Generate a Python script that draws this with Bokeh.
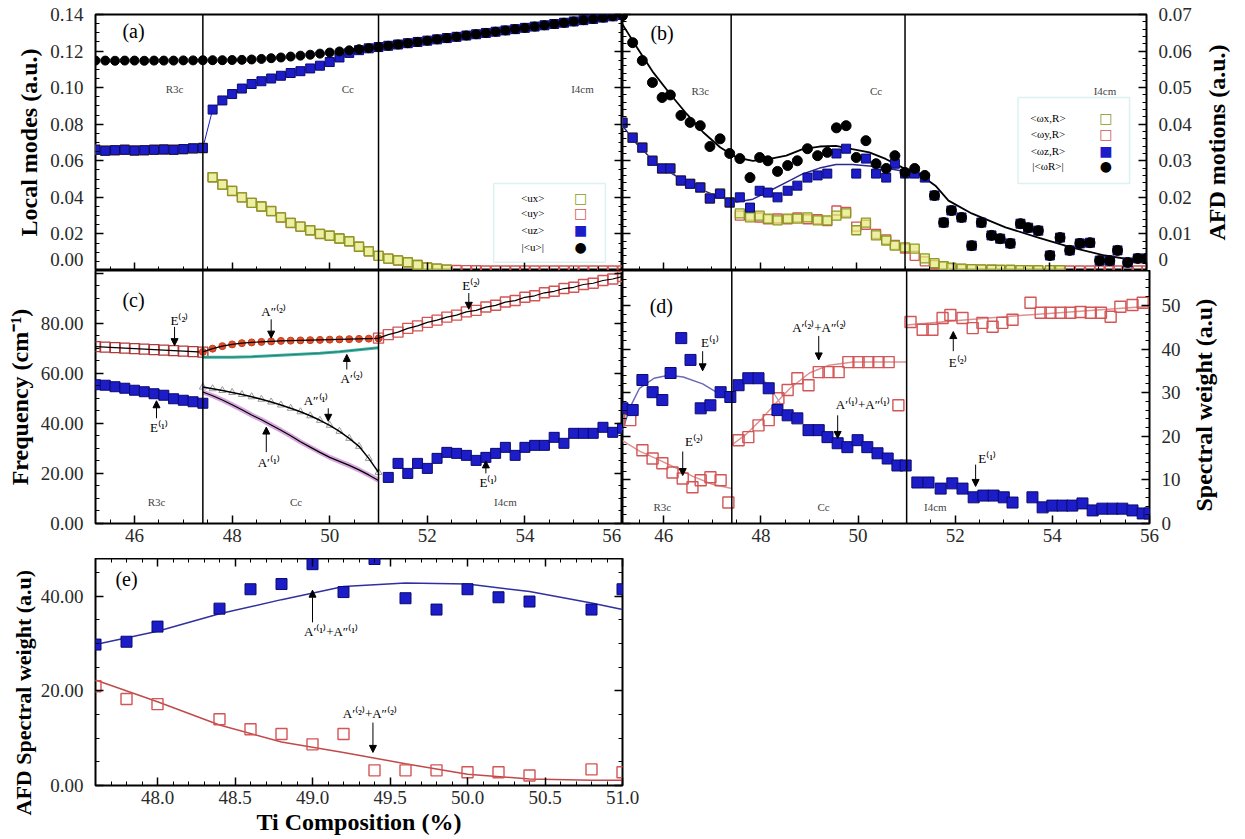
import math
import numpy as np
from bokeh.plotting import figure
from bokeh.layouts import column, row
from bokeh.models import (LinearAxis, FixedTicker, NumeralTickFormatter, Span, Label, Title,
                          Arrow, NormalHead, BoxAnnotation, Range1d, CustomJSTickFormatter)
from bokeh.embed import file_html
from bokeh.resources import INLINE

nan = float("nan")

# ---------------- panel (a): local modes ----------------
A_X = [45.2, 45.4, 45.6, 45.8, 46.0, 46.2, 46.4, 46.6, 46.8, 47.0, 47.2, 47.4,
       47.6, 47.8, 48.0, 48.2, 48.4, 48.6, 48.8, 49.0, 49.2, 49.4, 49.6, 49.8, 50.0, 50.2, 50.4, 50.6, 50.8, 51.0,
       51.2, 51.4, 51.6, 51.8, 52.0, 52.2, 52.4, 52.6, 52.8, 53.0, 53.2, 53.4, 53.6, 53.8, 54.0, 54.2, 54.4,
       54.6, 54.8, 55.0, 55.2, 55.4, 55.6, 55.8, 56.0]
A_UMOD = [0.1148, 0.1148, 0.1147, 0.1148, 0.1148, 0.1147, 0.1148, 0.1148, 0.1148, 0.1149, 0.1149, 0.1150,
          0.1150, 0.1150, 0.1151, 0.1152, 0.1154, 0.1157, 0.1161, 0.1165, 0.1170, 0.1175, 0.1180, 0.1186, 0.1192,
          0.1198, 0.1204, 0.1210, 0.1216, 0.1222,
          0.1229, 0.1236, 0.1243, 0.1250, 0.1257, 0.1264, 0.1271, 0.1278, 0.1285, 0.1292, 0.1299, 0.1306, 0.1313,
          0.1320, 0.1327, 0.1334, 0.1341, 0.1348, 0.1355, 0.1362, 0.1369, 0.1376, 0.1383, 0.1390, 0.1397]
A_UZ = [0.0660, 0.0655, 0.0658, 0.0660, 0.0656, 0.0658, 0.0660, 0.0662, 0.0660, 0.0664, 0.0668, 0.0670,
        0.0880, 0.0930, 0.0965, 0.0995, 0.1020, 0.1035, 0.1050, 0.1065, 0.1080, 0.1090, 0.1105, 0.1120, 0.1140,
        0.1165, 0.1190, 0.1205, 0.1215, 0.1222,
        0.1229, 0.1236, 0.1243, 0.1250, 0.1257, 0.1264, 0.1271, 0.1278, 0.1285, 0.1292, 0.1299, 0.1306, 0.1313,
        0.1320, 0.1327, 0.1334, 0.1341, 0.1348, 0.1355, 0.1362, 0.1369, 0.1376, 0.1383, 0.1390, 0.1397]
A_UX = [0.0660, 0.0655, 0.0658, 0.0660, 0.0656, 0.0658, 0.0660, 0.0662, 0.0660, 0.0664, 0.0668, 0.0670,
        0.0510, 0.0470, 0.0435, 0.0400, 0.0370, 0.0350, 0.0325, 0.0290, 0.0260, 0.0240, 0.0220, 0.0200, 0.0190,
        0.0175, 0.0160, 0.0130, 0.0105, 0.0080,
        0.0065, 0.0055, 0.0045, 0.0030, 0.0016, 0.0010, 0.0005, nan, nan, nan, nan, nan, nan,
        nan, nan, nan, nan, nan, nan, nan, nan, nan, nan, nan, nan]
A_UY = [0.0660, 0.0655, 0.0658, 0.0660, 0.0656, 0.0658, 0.0660, 0.0662, 0.0660, 0.0664, 0.0668, 0.0670,
        0.0510, 0.0470, 0.0435, 0.0400, 0.0370, 0.0350, 0.0325, 0.0290, 0.0260, 0.0240, 0.0220, 0.0200, 0.0190,
        0.0175, 0.0160, 0.0130, 0.0105, 0.0080,
        0.0065, 0.0055, 0.0045, 0.0030, 0.0016, 0.0010, 0.0005, 0.0003, 0.0002, 0.0001, 0.0, 0.0, 0.0,
        0.0, 0.0, 0.0, 0.0, 0.0, 0.0, 0.0, 0.0, 0.0, 0.0, 0.0, 0.0]
A_LEGEND = ["<ux>", "<uy>", "<uz>", "|<u>|"]

# ---------------- panel (b): AFD motions ----------------
B_X = [45.15, 45.36, 45.56, 45.77, 45.97, 46.14, 46.36, 46.55, 46.76, 46.96, 47.17, 47.37,
       47.58, 47.79, 47.99, 48.16, 48.36, 48.57, 48.77, 48.98, 49.19, 49.39, 49.58, 49.78, 49.99, 50.19,
       50.40, 50.61, 50.79, 51.00,
       51.20, 51.41, 51.61, 51.80, 51.96, 52.17, 52.38, 52.58, 52.79, 52.97, 53.18, 53.39, 53.55, 53.76,
       54.00, 54.21, 54.41, 54.62, 54.83, 55.03, 55.24, 55.40, 55.61, 55.82, 56.00]
B_WMOD = [0.0697, 0.0623, 0.0574, 0.0514, 0.0473, 0.0480, 0.0424, 0.0405, 0.0396, 0.0339, 0.0360, 0.0320,
          0.0306, 0.0254, 0.0309, 0.0300, 0.0271, 0.0287, 0.0300, 0.0333, 0.0314, 0.0323, 0.0390, 0.0396,
          0.0309, 0.0355, 0.0292, 0.0279, 0.0314, 0.0268,
          0.0279, 0.0260, 0.0205, 0.0131, 0.0164, 0.0145, 0.0068, 0.0131, 0.0096, 0.0087, 0.0074, 0.0128,
          0.0117, 0.0109, 0.0041, 0.0090, 0.0055, 0.0074, 0.0076, 0.0027, 0.0027, 0.0055, 0.0022, 0.0033, 0.0033]
B_WZ = [0.0404, 0.0363, 0.0336, 0.0300, 0.0279, 0.0279, 0.0246, 0.0237, 0.0227, 0.0197, 0.0210, 0.0186,
        0.0200, 0.0172, 0.0218, 0.0213, 0.0200, 0.0218, 0.0232, 0.0254, 0.0260, 0.0265, 0.0320, 0.0333,
        0.0265, 0.0306, 0.0265, 0.0254, 0.0292, 0.0265,
        0.0265, 0.0254, 0.0205, 0.0131, 0.0164, 0.0145, 0.0068, 0.0131, 0.0096, 0.0087, 0.0074, 0.0128,
        0.0117, 0.0109, 0.0041, 0.0090, 0.0055, 0.0074, 0.0076, 0.0027, 0.0027, 0.0055, 0.0022, 0.0033, 0.0033]
B_WX = [0.0404, 0.0363, 0.0336, 0.0300, 0.0279, 0.0279, 0.0246, 0.0237, 0.0227, 0.0197, 0.0210, 0.0186,
        0.0156, 0.0145, 0.0150, 0.0142, 0.0137, 0.0142, 0.0142, 0.0145, 0.0137, 0.0137, 0.0150, 0.0156,
        0.0110, 0.0131, 0.0096, 0.0082, 0.0068, 0.0063,
        0.0060, 0.0033, 0.0020, 0.0012, 0.0008, 0.0005, 0.0004, 0.0003, 0.0002, 0.0002, 0.0002, 0.0001,
        0.0001, 0.0001, 0.0001, 0.0001, nan, nan, nan, nan, nan, nan, nan, nan, nan]
B_WY = [0.0404, 0.0363, 0.0336, 0.0300, 0.0279, 0.0279, 0.0246, 0.0237, 0.0227, 0.0197, 0.0210, 0.0186,
        0.0150, 0.0150, 0.0145, 0.0140, 0.0142, 0.0140, 0.0145, 0.0140, 0.0140, 0.0135, 0.0164, 0.0160,
        0.0120, 0.0125, 0.0100, 0.0085, 0.0070, 0.0060,
        0.0040, 0.0025, 0.0015, 0.0010, 0.0006, 0.0004, 0.0003, 0.0002, 0.0002, 0.0001, 0.0001, 0.0001,
        0.0, 0.0, 0.0, 0.0, 0.0, 0.0, 0.0, 0.0, 0.0, 0.0, 0.0, 0.0, 0.0]
B_FIT_X = [45.15, 45.45, 45.79, 46.14, 46.48, 46.82, 47.17, 47.51, 47.85, 48.20, 48.54, 48.88, 49.23, 49.57,
           49.91, 50.26, 50.60, 50.94, 51.29, 51.63, 51.90, 52.38, 53.08, 53.76, 54.44, 55.14, 55.82, 56.00]
B_FIT_MOD = [0.0673, 0.0610, 0.0541, 0.0482, 0.0428, 0.0378, 0.0337, 0.0309, 0.0300, 0.0305, 0.0314, 0.0332,
             0.0339, 0.0341, 0.0332, 0.0323, 0.0305, 0.0282, 0.0264, 0.0232, 0.0191, 0.0156, 0.0118, 0.0090,
             0.0063, 0.0041, 0.0027, 0.0025]
B_FITZ_X = [45.15, 45.45, 45.79, 46.14, 46.48, 46.82, 47.17, 47.51, 47.85, 48.20, 48.54, 48.88, 49.23, 49.57,
            49.91, 50.26, 50.60, 50.94]
B_FIT_Z = [0.0396, 0.0345, 0.0300, 0.0268, 0.0241, 0.0219, 0.0200, 0.0187, 0.0195, 0.0218, 0.0241, 0.0264,
           0.0280, 0.0290, 0.0290, 0.0286, 0.0280, 0.0272]
B_LEGEND = ["<ωx,R>", "<ωy,R>", "<ωz,R>", "|<ωR>|"]

# ---------------- panel (c): frequencies ----------------
C_R3C_X = [45.2, 45.4, 45.6, 45.8, 46.0, 46.2, 46.4, 46.6, 46.8, 47.0, 47.2, 47.4]
C_E2_R3C = [70.6, 70.4, 70.2, 70.0, 69.8, 69.6, 69.4, 69.2, 69.0, 68.8, 68.6, 68.4]
C_E1_R3C = [55.4, 55.2, 54.6, 54.0, 53.2, 52.6, 51.8, 51.2, 49.8, 49.2, 48.6, 48.0]
C_CC_X = [47.4, 47.6, 47.8, 48.0, 48.2, 48.4, 48.6, 48.8, 49.0, 49.2, 49.4, 49.6, 49.8, 50.0, 50.2, 50.4,
          50.6, 50.8, 51.0]
C_A2PP = [68.5, 69.8, 70.8, 71.5, 72.0, 72.3, 72.5, 72.7, 72.9, 73.0, 73.1, 73.2, 73.3, 73.4, 73.5, 73.6,
          73.7, 73.8, 73.9]
C_A2P = [66.4, 66.4, 66.4, 66.4, 66.5, 66.6, 66.8, 67.0, 67.2, 67.4, 67.6, 67.8, 68.0, 68.3, 68.6, 69.0,
         69.4, 69.8, 70.2]
C_A1PP = [54.5, 53.8, 53.1, 52.3, 51.5, 50.6, 49.6, 48.5, 47.3, 46.0, 44.6, 43.0, 41.2, 39.2, 36.8, 34.0,
          30.8, 26.0, 20.4]
C_A1P = [52.5, 51.0, 49.3, 47.4, 45.4, 43.3, 41.4, 39.3, 37.2, 35.0, 32.6, 30.5, 28.4, 26.4, 24.8, 23.2,
         21.4, 19.4, 17.2]
C_RCM_X = [51.0, 51.2, 51.4, 51.6, 51.8, 52.0, 52.2, 52.4, 52.6, 52.8, 53.0, 53.2, 53.4, 53.6, 53.8, 54.0,
           54.2, 54.4, 54.6, 54.8, 55.0, 55.2, 55.4, 55.6, 55.8, 56.0]
C_E2_RCM = [74.0, 75.4, 76.4, 77.9, 78.9, 80.3, 81.2, 82.4, 83.2, 84.5, 85.1, 86.4, 87.1, 88.4, 89.0, 90.3,
            90.9, 92.1, 92.7, 93.8, 94.3, 95.4, 95.9, 97.0, 97.6, 98.6]
C_E1_RCM_X = [51.2, 51.4, 51.6, 51.8, 52.0, 52.2, 52.4, 52.6, 52.8, 53.0, 53.2, 53.4, 53.6, 53.8, 54.0, 54.2,
              54.4, 54.6, 54.8, 55.0, 55.2, 55.4, 55.6, 55.8, 56.0]
C_E1_RCM = [18.4, 24.0, 20.0, 24.0, 22.0, 26.0, 28.4, 28.0, 27.2, 25.2, 26.4, 28.0, 30.4, 27.2, 30.4, 31.2,
            31.2, 34.4, 32.0, 36.0, 36.0, 36.0, 38.4, 36.4, 38.0]

# ---------------- panel (d): spectral weights ----------------
D_E1_X = [45.15, 45.36, 45.56, 45.77, 45.97, 46.14, 46.36, 46.55, 46.76, 46.96, 47.17, 47.37,
          47.54, 47.74, 47.95, 48.16, 48.34, 48.55, 48.75, 48.98, 49.19, 49.37, 49.58, 49.78, 49.99, 50.19,
          50.40, 50.61, 50.81, 50.98,
          51.22, 51.45, 51.70, 51.94, 52.15, 52.38, 52.58, 52.79, 53.00, 53.18, 53.59, 53.80, 54.00, 54.21,
          54.41, 54.62, 54.83, 55.03, 55.24, 55.44, 55.65, 55.86, 56.00]
D_E1 = [26.4, 26.0, 32.9, 30.1, 28.3, 34.5, 42.5, 37.5, 26.4, 27.1, 30.1, 29.0,
        31.7, 33.3, 33.3, 31.0, 26.0, 24.8, 24.1, 21.4, 21.4, 19.8, 18.4, 17.5, 19.1, 17.5, 16.1, 14.9, 13.3, 13.3,
        9.4, 9.4, 8.0, 9.2, 8.0, 6.0, 6.4, 6.4, 6.0, 4.8, 6.0, 3.7, 4.1, 4.1, 4.1, 4.6, 3.0, 3.4, 3.4, 3.4,
        3.0, 2.3, 2.3]
D_E2_X = [45.31, 45.56, 45.77, 45.97, 46.18, 46.39, 46.59, 46.76, 46.96, 47.17, 47.33,
          47.54, 47.74, 47.95, 48.16, 48.36, 48.55, 48.75, 48.98, 49.19, 49.39, 49.60, 49.80, 50.01, 50.21,
          50.42, 50.63, 50.83,
          51.08, 51.33, 51.53, 51.74, 51.90, 52.15, 52.36, 52.56, 52.77, 52.97, 53.18, 53.55, 53.76, 53.96,
          54.17, 54.37, 54.58, 54.79, 55.00, 55.20, 55.40, 55.65, 55.86]
D_E2 = [23.7, 16.8, 14.9, 13.8, 11.7, 10.3, 8.3, 9.9, 10.6, 9.9, 4.8,
        19.1, 19.8, 22.5, 23.7, 28.7, 30.6, 33.3, 31.7, 34.7, 34.7, 34.7, 37.0, 37.0, 37.0, 37.0, 37.0, 27.1,
        46.2, 44.4, 44.4, 47.1, 47.8, 47.1, 44.8, 46.0, 45.1, 46.0, 46.7, 50.6, 48.3, 48.3, 48.3, 48.3, 48.5,
        48.3, 48.3, 47.4, 49.7, 50.1, 50.6]
D_FIT1_X = [45.15, 45.3, 45.5, 45.8, 46.1, 46.4, 46.8, 47.1, 47.4]
D_FIT1 = [21.4, 26.5, 31.0, 33.3, 34.0, 33.6, 32.0, 30.0, 28.0]
D_FIT1C_X = [47.4, 47.6, 47.8, 48.0, 48.2, 48.4]
D_FIT1C = [29.0, 32.5, 34.3, 33.6, 31.0, 27.5]
D_FIT2_X = [45.15, 45.5, 45.9, 46.2, 46.6, 47.0, 47.4]
D_FIT2 = [19.0, 16.6, 14.6, 13.0, 10.8, 9.0, 8.0]
D_FIT2C_X = [47.4, 47.7, 48.0, 48.3, 48.6, 49.0, 49.4, 49.9, 50.5, 51.0]
D_FIT2C = [18.0, 20.5, 23.8, 27.5, 31.0, 34.5, 36.3, 37.0, 37.0, 37.0]
D_FIT2R_X = [51.0, 52.0, 53.0, 54.0, 55.0, 56.0]
D_FIT2R = [45.5, 46.5, 47.4, 48.2, 49.0, 49.8]

# ---------------- panel (e): AFD spectral weight ----------------
E_X = [47.6, 47.8, 48.0, 48.4, 48.6, 48.8, 49.0, 49.2, 49.4, 49.6, 49.8, 50.0, 50.2, 50.4, 50.8, 51.0]
E_A1 = [29.8, 30.4, 33.6, 37.4, 41.5, 42.6, 46.8, 40.9, 47.9, 39.6, 37.2, 41.5, 39.8, 38.9, 37.2, 41.5]
E_A2 = [21.0, 18.3, 17.2, 14.0, 11.9, 10.9, 8.7, 10.9, 3.2, 3.2, 3.2, 2.8, 2.8, 2.1, 3.4, 2.8]
E_FIT_X = [47.6, 48.0, 48.4, 48.8, 49.2, 49.6, 50.0, 50.4, 50.8, 51.0]
E_FIT1 = [29.8, 32.6, 36.3, 39.3, 42.1, 42.8, 42.6, 41.0, 38.6, 37.2]
E_FIT2 = [22.3, 17.7, 12.8, 9.2, 7.0, 4.6, 2.4, 1.4, 1.1, 1.1]

PHASE_BOUNDS = [47.4, 51.0]
PHASES = ["R3c", "Cc", "I4cm"]

# ---------------- styling ----------------
SERIF = "Liberation Serif"
YEL = "#8a9a22"
YEL_FILL = "#e4ea7c"
RED = "#d35555"
BLUE = "#1c1cc8"
BLUE_EDGE = "#0b0b6e"
TEAL = "#3db3a3"
MAG = "#c98ad2"
TICK_COLOR = "#2a2a2a"
NBSP = "\u00a0"


def arr(v):
    return np.array(v, dtype=float)


def make_fig(width, height, xr, yr, ml, mr, mt, mb):
    p = figure(width=width, height=height, x_range=Range1d(*xr), y_range=Range1d(*yr),
               x_axis_location=None, y_axis_location=None, toolbar_location=None,
               output_backend="svg", min_border_left=ml, min_border_right=mr,
               min_border_top=mt, min_border_bottom=mb)
    p.grid.visible = False
    p.outline_line_color = "black"
    p.outline_line_width = 2
    p.background_fill_color = "white"
    p.border_fill_color = "white"
    return p


def tick_axis(p, side, ticks, minor):
    """Inward tick marks only (no labels)."""
    ax = LinearAxis(ticker=FixedTicker(ticks=ticks, minor_ticks=minor),
                    formatter=CustomJSTickFormatter(code="return ''"))
    ax.axis_line_color = None
    ax.major_tick_in = 8
    ax.major_tick_out = 0
    ax.minor_tick_in = 4
    ax.minor_tick_out = 0
    ax.major_tick_line_color = "black"
    ax.major_tick_line_width = 1.5
    ax.minor_tick_line_color = "black"
    ax.minor_tick_line_width = 1
    ax.major_label_text_font_size = "1px"
    ax.major_label_standoff = 0
    p.add_layout(ax, side)


def label_axis(p, side, ticks, fmt, overrides=None, label=None, standoff=12, label_standoff=5,
               orient=None, label_align="center"):
    """Tick labels (and axis title) only, no tick marks."""
    ax = LinearAxis(ticker=FixedTicker(ticks=ticks, minor_ticks=[]),
                    formatter=NumeralTickFormatter(format=fmt))
    ax.axis_line_color = None
    ax.major_tick_line_color = None
    ax.minor_tick_line_color = None
    ax.major_tick_in = 0
    ax.major_tick_out = 0
    ax.minor_tick_in = 0
    ax.minor_tick_out = 0
    ax.major_label_text_font = SERIF
    ax.major_label_text_font_size = "19px"
    ax.major_label_text_color = TICK_COLOR
    ax.major_label_standoff = standoff
    if overrides:
        ax.major_label_overrides = overrides
    if label:
        ax.axis_label = label
        ax.axis_label_text_font = SERIF
        ax.axis_label_text_font_size = "24px"
        ax.axis_label_text_font_style = "bold"
        ax.axis_label_text_color = "black"
        ax.axis_label_standoff = label_standoff
        ax.axis_label_align = label_align
        if orient is not None:
            ax.axis_label_orientation = orient
    p.add_layout(ax, side)


def spans(p):
    for loc in PHASE_BOUNDS:
        p.add_layout(Span(location=loc, dimension="height", line_color="black", line_width=1.5))


def note(p, x, y, text, size="13px", align="center", color="black"):
    p.add_layout(Label(x=x, y=y, text=text, text_font=SERIF, text_font_size=size,
                       text_align=align, text_baseline="middle", text_color=color))


def arrow(p, x0, y0, x1, y1):
    p.add_layout(Arrow(end=NormalHead(size=7, fill_color="black", line_color="black", line_width=1),
                       x_start=x0, y_start=y0, x_end=x1, y_end=y1, line_color="black", line_width=1))


def sq_open(p, x, y, color, size=10):
    p.scatter(arr(x), arr(y), marker="square", size=size, fill_color=None, line_color=color, line_width=1.4)


def sq_yellow(p, x, y, size=10):
    p.scatter(arr(x), arr(y), marker="square", size=size, fill_color=YEL_FILL, fill_alpha=0.7,
              line_color=YEL, line_width=1.3)


def sq_fill(p, x, y, size=10):
    p.scatter(arr(x), arr(y), marker="square", size=size, fill_color=BLUE, line_color=BLUE_EDGE, line_width=1)


def dots(p, x, y, size=9):
    p.scatter(arr(x), arr(y), marker="circle", size=size, fill_color="black", line_color="black")


def legend(p, box, tx, sx, ys, texts):
    p.add_layout(BoxAnnotation(left=box[0], right=box[1], bottom=box[2], top=box[3], fill_color="white",
                               fill_alpha=1.0, line_color="#8fd0d0", line_width=1.5))
    symbols = [("□", YEL), ("□", RED), ("■", BLUE), ("●", "black")]
    for y, t, (s, c) in zip(ys, texts, symbols):
        note(p, tx, y, t, size="11px")
        p.add_layout(Label(x=sx, y=y, text=s, text_font="DejaVu Sans", text_font_size="14px",
                           text_align="center", text_baseline="middle", text_color=c))


X_MAJ = [46, 48, 50, 52, 54, 56]
X_MIN = [45 + 0.5 * i for i in range(23)]
YA_MAJ = [0.02 * i for i in range(8)]
YA_MIN = [0.005 * i for i in range(29)]
YB_MAJ = [0.01 * i for i in range(8)]
YB_MIN = [0.002 * i for i in range(36)]

# ---------------- (a) ----------------
pa = make_fig(622, 270, (45.2, 56.0), (0, 0.14), 95, 0, 14, 0)
tick_axis(pa, "left", YA_MAJ, YA_MIN)
label_axis(pa, "left", [0.006, 0.02, 0.04, 0.06, 0.08, 0.10, 0.12, 0.14], "0.00", overrides={0.006: "0.00"},
           label="Local modes (a.u.)", standoff=12)
tick_axis(pa, "below", X_MAJ, X_MIN)
tick_axis(pa, "right", YA_MAJ, YA_MIN)
spans(pa)
pa.line(arr(A_X), arr(A_UZ), line_color=BLUE, line_width=1)
sq_open(pa, A_X, A_UY, RED, 9)
sq_yellow(pa, A_X, A_UX, 9)
sq_fill(pa, A_X, A_UZ, 9)
dots(pa, A_X, A_UMOD, 9)
note(pa, 45.98, 0.131, "(a)", size="20px")
for x, t in zip([46.82, 50.37, 55.18], PHASES):
    note(pa, x, 0.099, t, size="11px", color="#444444")
legend(pa, (53.36, 55.65, 0.0045, 0.0476), 54.16, 55.14, [0.0399, 0.0312, 0.0219, 0.0126], A_LEGEND)

# ---------------- (b) ----------------
pb = make_fig(623, 270, (45.15, 56.0), (0, 0.07), 0, 96, 14, 0)
tick_axis(pb, "left", YB_MAJ, YB_MIN)
tick_axis(pb, "right", YB_MAJ, YB_MIN)
label_axis(pb, "right", [0.003, 0.01, 0.02, 0.03, 0.04, 0.05, 0.06, 0.07], "0.00", overrides={0.003: "0"},
           label=NBSP * 5 + "AFD motions (a.u.)", standoff=12, label_standoff=22, orient=math.pi / 2,
           label_align="start")
tick_axis(pb, "below", X_MAJ, X_MIN)
spans(pb)
pb.line(arr(B_FITZ_X), arr(B_FIT_Z), line_color="#2a2a90", line_width=1.5)
pb.line(arr(B_FIT_X), arr(B_FIT_MOD), line_color="black", line_width=1.8)
sq_open(pb, B_X, B_WY, RED, 9)
sq_yellow(pb, B_X, B_WX, 9)
sq_fill(pb, B_X, B_WZ, 9)
dots(pb, B_X, B_WMOD, 10)
note(pb, 45.97, 0.065, "(b)", size="20px")
for x, t in zip([46.76, 50.4, 55.14], PHASES):
    note(pb, x, 0.049, t, size="11px", color="#444444")
legend(pb, (53.34, 55.65, 0.0238, 0.0473), 53.96, 55.16, [0.0418, 0.0374, 0.0328, 0.0287], B_LEGEND)

# ---------------- (c) ----------------
pc = make_fig(622, 288, (45.2, 56.0), (0, 101), 95, 0, 0, 35)
tick_axis(pc, "left", [0, 20, 40, 60, 80, 100], [5 * i for i in range(21)])
label_axis(pc, "left", [0, 20, 40, 60, 80], "0.00", label="Frequency (cm⁻¹)", standoff=12)
tick_axis(pc, "below", X_MAJ, X_MIN)
label_axis(pc, "below", [46, 48, 50, 52, 54, 55.78], "0", overrides={55.78: "56"}, standoff=5)
tick_axis(pc, "right", [0, 20, 40, 60, 80, 100], [5 * i for i in range(21)])
spans(pc)
sq_open(pc, C_R3C_X, C_E2_R3C, "#b03a3a", 10)
pc.line(arr(C_R3C_X), arr(C_E2_R3C), line_color="black", line_width=1.2)
sq_fill(pc, C_R3C_X, C_E1_R3C, 10)
pc.line(arr(C_CC_X), arr(C_A2P), line_color=TEAL, line_width=3)
pc.line(arr(C_CC_X), arr(C_A2P), line_color="#1f6f66", line_width=0.8)
pc.scatter(arr(C_CC_X), arr(C_A2PP), marker="circle", size=7, fill_color="#e0502a", line_color="#c84020")
pc.line(arr(C_CC_X), arr(C_A2PP), line_color="black", line_width=1.2)
pc.line(arr(C_CC_X), arr(C_A1P), line_color=MAG, line_width=5, line_alpha=0.75)
pc.line(arr(C_CC_X), arr(C_A1P), line_color="black", line_width=1.2)
pc.scatter(arr(C_CC_X), arr(C_A1PP), marker="triangle", size=7, fill_color=None, line_color="#9a9a9a")
pc.line(arr(C_CC_X), arr(C_A1PP), line_color="black", line_width=1.5)
sq_open(pc, C_RCM_X, C_E2_RCM, RED, 10)
pc.line(arr(C_RCM_X), arr(C_E2_RCM), line_color="black", line_width=1.2)
sq_fill(pc, C_E1_RCM_X, C_E1_RCM, 10)
note(pc, 45.98, 89.2, "(c)", size="20px")
for x, t in zip([46.45, 49.31, 53.6], PHASES):
    note(pc, x, 8.4, t, size="11px", color="#444444")
note(pc, 46.92, 81.0, "E⁽²⁾"); arrow(pc, 46.82, 78.5, 46.82, 71.0)
note(pc, 48.85, 84.5, "A″⁽²⁾"); arrow(pc, 48.8, 81.5, 48.8, 74.0)
note(pc, 50.45, 58.0, "A′⁽²⁾"); arrow(pc, 50.35, 61.5, 50.35, 67.5)
note(pc, 49.72, 49.0, "A″⁽¹⁾"); arrow(pc, 49.97, 46.0, 49.97, 40.8)
note(pc, 48.75, 24.5, "A′⁽¹⁾"); arrow(pc, 48.7, 28.5, 48.7, 38.5)
note(pc, 46.5, 38.5, "E⁽¹⁾"); arrow(pc, 46.45, 42.0, 46.45, 49.0)
note(pc, 52.9, 95.0, "E⁽²⁾"); arrow(pc, 52.85, 92.0, 52.85, 85.5)
note(pc, 53.25, 16.5, "E⁽¹⁾"); arrow(pc, 53.2, 20.0, 53.2, 25.0)

# ---------------- (d) ----------------
pd_ = make_fig(623, 288, (45.15, 56.0), (0, 58), 0, 96, 0, 35)
tick_axis(pd_, "left", [0, 10, 20, 30, 40, 50], [2 * i for i in range(30)])
tick_axis(pd_, "right", [0, 10, 20, 30, 40, 50], [2 * i for i in range(30)])
label_axis(pd_, "right", [0, 10, 20, 30, 40, 50], "0", label=NBSP * 2 + "Spectral weight (a.u)", standoff=12,
           label_standoff=20, orient=math.pi / 2, label_align="start")
tick_axis(pd_, "below", X_MAJ, X_MIN)
label_axis(pd_, "below", X_MAJ, "0", standoff=5)
spans(pd_)
pd_.line(arr(D_FIT1_X), arr(D_FIT1), line_color="#6a6ab8", line_width=1.5)
pd_.line(arr(D_FIT1C_X), arr(D_FIT1C), line_color="#9a9ac0", line_width=1.2)
pd_.line(arr(D_FIT2_X), arr(D_FIT2), line_color="#e09090", line_width=1.5)
pd_.line(arr(D_FIT2C_X), arr(D_FIT2C), line_color="#e09090", line_width=1.5)
pd_.line(arr(D_FIT2R_X), arr(D_FIT2R), line_color="#e09090", line_width=1.5)
sq_open(pd_, D_E2_X, D_E2, RED, 11)
sq_fill(pd_, D_E1_X, D_E1, 11)
note(pd_, 45.95, 49.9, "(d)", size="20px")
for x, t in zip([45.97, 49.29, 51.59], PHASES):
    note(pd_, x, 3.8, t, size="11px", color="#444444")
note(pd_, 46.95, 41.5, "E⁽¹⁾"); arrow(pd_, 46.8, 39.5, 46.8, 35.0)
note(pd_, 46.62, 18.8, "E⁽²⁾"); arrow(pd_, 46.39, 16.5, 46.39, 11.0)
note(pd_, 49.2, 45.0, "A′⁽²⁾+A″⁽²⁾"); arrow(pd_, 49.19, 43.0, 49.19, 37.5)
note(pd_, 50.1, 27.3, "A′⁽¹⁾+A″⁽¹⁾"); arrow(pd_, 49.58, 24.8, 49.58, 19.5)
note(pd_, 52.05, 36.8, "E⁽²⁾"); arrow(pd_, 51.96, 39.5, 51.96, 44.0)
note(pd_, 52.66, 15.0, "E⁽¹⁾"); arrow(pd_, 52.42, 13.5, 52.42, 8.5)

# ---------------- (e) ----------------
pe = make_fig(680, 281, (47.6, 51.0), (0, 48), 95, 58, 0, 54)
E_XT = [48.0, 48.5, 49.0, 49.5, 50.0, 50.5, 51.0]
E_XM = [47.6 + 0.1 * i for i in range(35)]
tick_axis(pe, "left", [0, 20, 40], [5 * i for i in range(10)])
label_axis(pe, "left", [0, 20, 40], "0.00", standoff=12)
pe.add_layout(Title(text="AFD Spectral weight (a.u)", align="left", offset=-30, standoff=4,
                    text_font=SERIF, text_font_size="22px", text_font_style="bold",
                    text_color="black"), "left")
tick_axis(pe, "below", E_XT, E_XM)
label_axis(pe, "below", E_XT, "0.0", label="Ti Composition (%)", standoff=5, label_standoff=2)
tick_axis(pe, "above", E_XT, E_XM)
tick_axis(pe, "right", [0, 20, 40], [5 * i for i in range(10)])
pe.line(arr(E_FIT_X), arr(E_FIT1), line_color="#3030a0", line_width=1.5)
pe.line(arr(E_FIT_X), arr(E_FIT2), line_color="#c04a4a", line_width=1.5)
sq_open(pe, E_X, E_A2, RED, 11)
sq_fill(pe, E_X, E_A1, 11)
note(pe, 47.8, 43.6, "(e)", size="20px")
note(pe, 49.12, 32.6, "A′⁽¹⁾+A″⁽¹⁾"); arrow(pe, 49.0, 34.5, 49.0, 41.3)
note(pe, 49.37, 15.2, "A′⁽²⁾+A″⁽²⁾"); arrow(pe, 49.39, 13.3, 49.39, 7.0)

layout = column(row(pa, pb), row(pc, pd_), pe)
open("out.html", "w").write(file_html(layout, INLINE))
